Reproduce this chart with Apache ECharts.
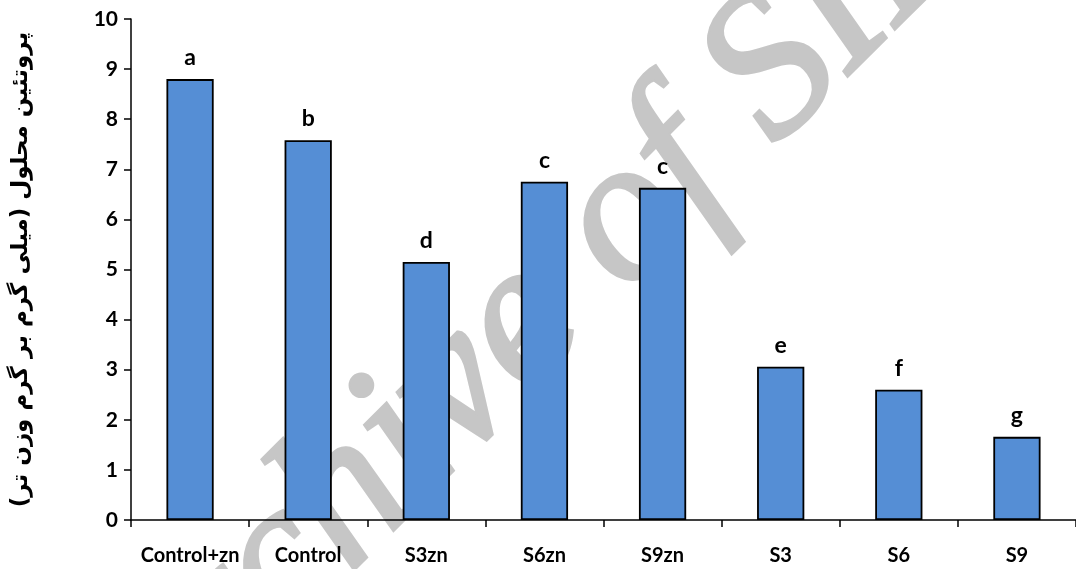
<!DOCTYPE html>
<html>
<head>
<meta charset="utf-8">
<script src="https://cdn.jsdelivr.net/npm/echarts@6/dist/echarts.min.js"></script>
<style>
  html, body { margin: 0; padding: 0; background: #fff; }
  #chart { width: 1076px; height: 569px; }
</style>
</head>
<body>
<div id="chart"></div>
<script>
// Soluble protein per treatment (mg per g fresh weight)
const categories = ['Control+zn', 'Control', 'S3zn', 'S6zn', 'S9zn', 'S3', 'S6', 'S9'];
const proteinValues = [8.80, 7.58, 5.15, 6.75, 6.63, 3.06, 2.60, 1.66];
// Mean-separation letters shown above each bar
const groupLetters = ['a', 'b', 'd', 'c', 'c', 'e', 'f', 'g'];
const yAxisTitle = 'پروتئین محلول (میلی گرم بر گرم وزن تر)';
const watermarkText = 'Archive of SID';

const latin = 'Lato, "Open Sans", sans-serif';

const chart = echarts.init(document.getElementById('chart'), null, { renderer: 'canvas' });

chart.setOption({
  backgroundColor: '#ffffff',
  animation: false,
  graphic: [{
    // diagonal grey watermark behind the plot
    type: 'text',
    z: -10,
    silent: true,
    x: 535,
    y: 312,
    rotation: Math.PI * 0.25,
    style: {
      text: watermarkText,
      fill: '#c6c6c6',
      stroke: '#c6c6c6',
      lineWidth: 4,
      fontStyle: 'italic',
      fontSize: 205,
      fontFamily: '"Liberation Serif", "DejaVu Serif", serif',
      textAlign: 'center',
      textVerticalAlign: 'middle'
    }
  }],
  grid: { left: 131, right: 0, top: 19, bottom: 49, containLabel: false },
  xAxis: {
    type: 'category',
    data: categories,
    boundaryGap: true,
    axisLine: { lineStyle: { color: '#000', width: 1.5 } },
    axisTick: { show: true, length: 7, alignWithLabel: false, lineStyle: { color: '#000', width: 1.5 } },
    axisLabel: {
      color: '#000', fontFamily: latin, fontWeight: 'bold', fontSize: 20,
      margin: 26, interval: 0
    },
    splitLine: { show: false }
  },
  yAxis: {
    type: 'value',
    min: 0, max: 10, interval: 1,
    name: yAxisTitle,
    nameLocation: 'middle',
    nameRotate: 90,
    nameGap: 98,
    nameTextStyle: { color: '#000', fontFamily: '"DejaVu Sans", sans-serif', fontWeight: 'bold', fontSize: 23 },
    axisLine: { show: true, lineStyle: { color: '#000', width: 1.5 } },
    axisTick: { show: true, length: 7, lineStyle: { color: '#000', width: 1.5 } },
    axisLabel: { color: '#000', fontFamily: latin, fontWeight: 'bold', fontSize: 21, margin: 13 },
    splitLine: { show: false }
  },
  series: [{
    type: 'bar',
    data: proteinValues,
    barWidth: '40%',
    z: 3,
    itemStyle: { color: '#558ed5', borderColor: '#000', borderWidth: 1.8 },
    label: {
      show: true,
      position: 'top',
      distance: 10,
      color: '#000',
      fontFamily: latin,
      fontWeight: 'bold',
      fontSize: 23,
      formatter: p => groupLetters[p.dataIndex]
    }
  }]
});
</script>
</body>
</html>
